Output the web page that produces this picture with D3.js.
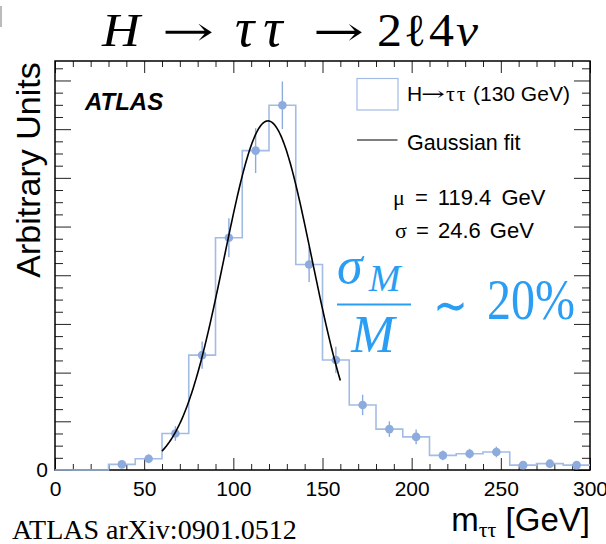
<!DOCTYPE html>
<html>
<head>
<meta charset="utf-8">
<script src="https://cdn.jsdelivr.net/npm/d3@7/dist/d3.min.js"></script>
<style>
  html, body { margin: 0; padding: 0; background: #fff; }
  svg { display: block; }
  .sans { font-family: "Liberation Sans", Arial, Helvetica, sans-serif; }
  .serif { font-family: "Liberation Serif", "Times New Roman", serif; }
  .arrow { font-family: "DejaVu Serif", "Liberation Serif", serif; }
</style>
</head>
<body>
<svg id="chart" width="606" height="544"></svg>
<script>
// Histogram of reconstructed m_tautau (15 GeV bins)
const binEdges = [0, 15, 30, 45, 60, 75, 90, 105, 120, 135, 150, 165, 180, 195, 210, 225, 240, 255, 270, 285, 300];
const binCounts = [0, 0, 0.115, 0.23, 0.75, 2.36, 4.77, 6.56, 7.49, 4.22, 2.26, 1.335, 0.84, 0.68, 0.30, 0.335, 0.37, 0.10, 0.13, 0.10];
const binErrors = [0, 0, 0.06, 0.09, 0.15, 0.28, 0.40, 0.46, 0.49, 0.36, 0.27, 0.21, 0.16, 0.15, 0.10, 0.10, 0.11, 0.06, 0.07, 0.06];

// Gaussian fit parameters
const fitMu = 119.4;
const fitSigma = 24.6;
const fitAmp = 7.17;
const fitRange = [60, 160];

// Axis ticks
const xMajorTicks = [0, 50, 100, 150, 200, 250, 300];
const xMinorTicks = [10, 20, 30, 40, 60, 70, 80, 90, 110, 120, 130, 140, 160, 170, 180, 190, 210, 220, 230, 240, 260, 270, 280, 290];
const yMajorTicks = [0, 1, 2, 3, 4, 5, 6, 7, 8];
const yMinorTicks = [0.25, 0.5, 0.75, 1.25, 1.5, 1.75, 2.25, 2.5, 2.75, 3.25, 3.5, 3.75, 4.25, 4.5, 4.75, 5.25, 5.5, 5.75, 6.25, 6.5, 6.75, 7.25, 7.5, 7.75, 8.25];

const frame = { left: 55, right: 590, top: 61, bottom: 470 };
const histColor = "#a3bce5";
const markerColor = "#8dabdd";
const accent = "#2a9df4";

const svg = d3.select("#chart");

const x = d3.scaleLinear().domain([0, 300]).range([frame.left, frame.right]);
const y = d3.scaleLinear().domain([0, 8.4]).range([frame.bottom, frame.top]);

// ---- axes (ticks point inward on all four sides) ----
function styleAxis(g) {
  g.select(".domain").remove();
  g.selectAll(".tick line").attr("stroke", "#222").attr("stroke-width", 1);
}

svg.append("g")
  .attr("transform", `translate(0,${frame.bottom})`)
  .call(d3.axisBottom(x).tickValues(xMajorTicks).tickSize(-12).tickPadding(11).tickFormat(d3.format("d")))
  .call(styleAxis)
  .call(g => g.selectAll("text").attr("class", "sans").attr("font-size", 21).attr("fill", "#000"));
svg.append("g")
  .attr("transform", `translate(0,${frame.bottom})`)
  .call(d3.axisBottom(x).tickValues(xMinorTicks).tickSize(-6).tickFormat(""))
  .call(styleAxis);
svg.append("g")
  .attr("transform", `translate(0,${frame.top})`)
  .call(d3.axisTop(x).tickValues(xMajorTicks).tickSize(-12).tickFormat(""))
  .call(styleAxis);
svg.append("g")
  .attr("transform", `translate(0,${frame.top})`)
  .call(d3.axisTop(x).tickValues(xMinorTicks).tickSize(-6).tickFormat(""))
  .call(styleAxis);

svg.append("g")
  .attr("transform", `translate(${frame.left},0)`)
  .call(d3.axisLeft(y).tickValues(yMajorTicks).tickSize(-16).tickPadding(7).tickFormat(d => d === 0 ? "0" : ""))
  .call(styleAxis)
  .call(g => g.selectAll("text").attr("class", "sans").attr("font-size", 21).attr("fill", "#000"));
svg.append("g")
  .attr("transform", `translate(${frame.left},0)`)
  .call(d3.axisLeft(y).tickValues(yMinorTicks).tickSize(-8).tickFormat(""))
  .call(styleAxis);
svg.append("g")
  .attr("transform", `translate(${frame.right},0)`)
  .call(d3.axisRight(y).tickValues(yMajorTicks).tickSize(-16).tickFormat(""))
  .call(styleAxis);
svg.append("g")
  .attr("transform", `translate(${frame.right},0)`)
  .call(d3.axisRight(y).tickValues(yMinorTicks).tickSize(-8).tickFormat(""))
  .call(styleAxis);

// frame
svg.append("rect")
  .attr("x", frame.left).attr("y", frame.top)
  .attr("width", frame.right - frame.left).attr("height", frame.bottom - frame.top)
  .attr("fill", "none").attr("stroke", "#000").attr("stroke-width", 1.5);

// ---- histogram outline ----
const stepPoints = binCounts.map((c, i) => [binEdges[i], c]);
stepPoints.push([binEdges[binEdges.length - 1], binCounts[binCounts.length - 1]]);
svg.append("path")
  .attr("d", d3.line().x(d => x(d[0])).y(d => y(d[1])).curve(d3.curveStepAfter)(stepPoints))
  .attr("fill", "none").attr("stroke", histColor).attr("stroke-width", 1.6);

// ---- data points with error bars ----
const bins = binCounts.map((c, i) => ({
  center: (binEdges[i] + binEdges[i + 1]) / 2, value: c, err: binErrors[i]
})).filter(d => d.value > 0);

svg.append("g").selectAll("line").data(bins).join("line")
  .attr("x1", d => x(d.center)).attr("x2", d => x(d.center))
  .attr("y1", d => y(d.value - d.err)).attr("y2", d => y(d.value + d.err))
  .attr("stroke", markerColor).attr("stroke-width", 1.4);
svg.append("g").selectAll("circle").data(bins).join("circle")
  .attr("cx", d => x(d.center)).attr("cy", d => y(d.value)).attr("r", 4.3)
  .attr("fill", markerColor);

// ---- Gaussian fit curve ----
const gauss = m => fitAmp * Math.exp(-((m - fitMu) ** 2) / (2 * fitSigma * fitSigma));
const curveX = d3.range(fitRange[0], fitRange[1] + 0.001, 0.5);
svg.append("path")
  .attr("d", d3.line().x(m => x(m)).y(m => y(gauss(m)))(curveX))
  .attr("fill", "none").attr("stroke", "#000").attr("stroke-width", 1.6);

// Places a text token starting at x0; if w is given it is scaled horizontally to span w
function fitToken(parent, cls, str, x0, y0, size, w, opts = {}) {
  const t = parent.append("text").attr("class", cls)
    .attr("font-size", size)
    .attr("font-style", opts.italic ? "italic" : "normal")
    .attr("fill", opts.fill || "#000")
    .text(str);
  if (opts.spacing) t.attr("letter-spacing", opts.spacing);
  const natural = t.node().getComputedTextLength() || w;
  const sx = w ? w / natural : 1;
  t.attr("transform", `translate(${x0},${y0}) scale(${sx},1)`);
  return t;
}

// ---- labels ----
svg.append("text").attr("class", "sans")
  .attr("x", 85).attr("y", 110)
  .attr("font-size", 24).attr("font-weight", "bold").attr("font-style", "italic")
  .text("ATLAS");

// legend
svg.append("rect").attr("x", 357).attr("y", 78.5).attr("width", 41).attr("height", 31.5)
  .attr("fill", "none").attr("stroke", histColor).attr("stroke-width", 1.2);
const legY = 101;
svg.append("text").attr("class", "sans").attr("x", 407).attr("y", legY).attr("font-size", 21).text("H");
fitToken(svg, "arrow", "\u2192", 421, legY - 1, 18, 24);
svg.append("text").attr("class", "serif").attr("x", 446).attr("y", legY).attr("font-size", 22)
  .attr("letter-spacing", 2).text("\u03c4\u03c4");
svg.append("text").attr("class", "sans").attr("x", 473).attr("y", legY).attr("font-size", 21)
  .text("(130 GeV)");

svg.append("line").attr("x1", 357).attr("x2", 397.5).attr("y1", 140).attr("y2", 140)
  .attr("stroke", "#000").attr("stroke-width", 1.2);
svg.append("text").attr("class", "sans").attr("x", 407).attr("y", 150).attr("font-size", 21.5)
  .text("Gaussian fit");

const muLabel = svg.append("text").attr("class", "sans").attr("x", 393).attr("y", 205)
  .attr("font-size", 22).attr("word-spacing", 4);
muLabel.append("tspan").attr("class", "serif").text("\u03bc");
muLabel.append("tspan").text(` = ${fitMu} GeV`);
const sigLabel = svg.append("text").attr("class", "sans").attr("x", 395).attr("y", 238)
  .attr("font-size", 22).attr("word-spacing", 3);
sigLabel.append("tspan").attr("class", "serif").text("\u03c3");
sigLabel.append("tspan").text(` = ${fitSigma} GeV`);

// resolution annotation
const num = svg.append("text").attr("class", "serif").attr("fill", accent)
  .attr("x", 337).attr("y", 283).attr("font-size", 52).attr("font-style", "italic");
num.append("tspan").text("\u03c3");
num.append("tspan").attr("font-size", 38).attr("dx", 6).attr("dy", 8).text("M");
svg.append("line").attr("x1", 337).attr("x2", 411).attr("y1", 304.5).attr("y2", 304.5)
  .attr("stroke", accent).attr("stroke-width", 2.2);
svg.append("text").attr("class", "serif").attr("fill", accent)
  .attr("x", 373).attr("y", 352).attr("font-size", 52).attr("font-style", "italic")
  .attr("text-anchor", "middle").text("M");
fitToken(svg, "serif", "\u223c", 433, 323, 52, 35, { fill: accent });
fitToken(svg, "serif", "20%", 487, 319, 56, 88, { fill: accent });

// title: H -> tau tau -> 2 l 4 nu
const titleY = 46;
const titleG = svg.append("g");
fitToken(titleG, "serif", "H", 102, titleY, 47, 38, { italic: true });
fitToken(titleG, "arrow", "\u2192", 162, titleY - 1, 40, 52);
fitToken(titleG, "serif", "\u03c4\u03c4", 235, titleY, 54, 0, { italic: true, spacing: 9 });
fitToken(titleG, "arrow", "\u2192", 313, titleY - 1, 40, 51);
fitToken(titleG, "serif", "2", 377, titleY, 46, 25);
fitToken(titleG, "serif", "\u2113", 404, titleY, 46, 22);
fitToken(titleG, "serif", "4", 429, titleY, 46, 25);
fitToken(titleG, "serif", "\u03bd", 456, titleY, 46, 22, { italic: true });

// axis titles
svg.append("text").attr("class", "sans")
  .attr("transform", "translate(40,170) rotate(-90)")
  .attr("text-anchor", "middle").attr("font-size", 34)
  .text("Arbitrary Units");

const xt = svg.append("text").attr("class", "sans")
  .attr("x", 590).attr("y", 531).attr("font-size", 33).attr("text-anchor", "end");
xt.append("tspan").text("m");
xt.append("tspan").attr("class", "serif").attr("font-size", 22).attr("dy", 6).text("\u03c4\u03c4");
xt.append("tspan").attr("dy", -6).text(" [GeV]");

svg.append("text").attr("class", "serif")
  .attr("x", 12).attr("y", 539).attr("font-size", 28)
  .text("ATLAS arXiv:0901.0512");

// small mark at the top-left edge
svg.append("rect").attr("x", 0).attr("y", 6).attr("width", 2).attr("height", 21).attr("fill", "#bbb");
</script>
</body>
</html>
